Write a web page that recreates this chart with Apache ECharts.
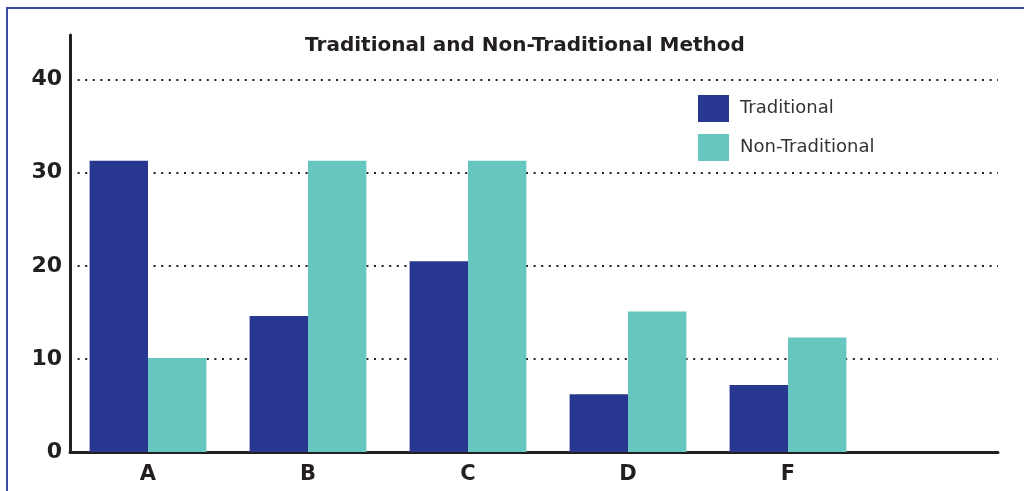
<!DOCTYPE html>
<html>
<head>
<meta charset="utf-8">
<script src="https://cdn.jsdelivr.net/npm/echarts@6/dist/echarts.min.js"></script>
<style>html,body{margin:0;padding:0;background:#fff}#c{width:1024px;height:491px}</style>
</head>
<body>
<div id="c"></div>
<script>
const categories = ['A', 'B', 'C', 'D', 'F'];
const traditional = [31.3, 14.6, 20.5, 6.2, 7.2];
const nonTraditional = [10.1, 31.3, 31.3, 15.1, 12.3];
const yTicks = [0, 10, 20, 30, 40];

const chart = echarts.init(document.getElementById('c'));
const yMax = 44.8;
const font = 'DejaVu Sans, Liberation Sans, sans-serif';
chart.setOption({
  backgroundColor: '#fff',
  animation: false,
  title: {
    text: 'Traditional and Non-Traditional Method',
    left: 520, top: 31, textAlign: 'center',
    textStyle: { fontFamily: font, fontSize: 20, fontWeight: 'bold', color: '#231f20' }
  },
  legend: {
    data: ['Traditional', 'Non-Traditional'],
    orient: 'vertical', left: 693, top: 90,
    itemWidth: 31, itemHeight: 27, itemGap: 12,
    icon: 'rect',
    textStyle: { fontFamily: font, fontSize: 18, color: '#333', padding: [0, 0, 0, 6] }
  },
  grid: [
    { left: 70, right: 26, top: 35, bottom: 39 },
    { left: 68, width: 800, top: 35, bottom: 39 }
  ],
  xAxis: [
    { gridIndex: 0, type: 'value', min: 0, max: 1,
      axisLine: { show: true, lineStyle: { color: '#231f20', width: 3 } },
      axisTick: { show: false }, axisLabel: { show: false }, splitLine: { show: false } },
    { gridIndex: 1, type: 'category', data: categories,
      axisLine: { show: false }, axisTick: { show: false },
      axisLabel: { fontFamily: font, fontSize: 21, fontWeight: 'bold', color: '#231f20', margin: 12 } }
  ],
  yAxis: [
    { gridIndex: 0, type: 'value', min: 0, max: yMax, interval: 10,
      axisLine: { show: true, lineStyle: { color: '#231f20', width: 3 } },
      axisTick: { show: false },
      axisLabel: { fontFamily: font, fontSize: 22, fontWeight: 'bold', color: '#231f20', margin: 8,
        formatter: v => yTicks.includes(v) ? String(v) : '' },
      splitLine: { show: true, showMinLine: false, showMaxLine: false,
        lineStyle: { color: '#231f20', width: 2, type: [2, 5.6] } } },
    { gridIndex: 1, type: 'value', min: 0, max: yMax, interval: 10, show: false,
      splitLine: { show: false } }
  ],
  series: [
    { name: 'Traditional', type: 'bar', xAxisIndex: 1, yAxisIndex: 1, data: traditional,
      itemStyle: { color: '#283891' }, barGap: '0%', barCategoryGap: '27%' },
    { name: 'Non-Traditional', type: 'bar', xAxisIndex: 1, yAxisIndex: 1, data: nonTraditional,
      itemStyle: { color: '#66c7c1' }, barGap: '0%', barCategoryGap: '27%' }
  ],
  graphic: [
    { type: 'polyline', silent: true,
      shape: { points: [[7, 495], [7, 8], [1030, 8]] },
      style: { stroke: '#3a4aa6', lineWidth: 2, fill: null } }
  ]
});
</script>
</body>
</html>
